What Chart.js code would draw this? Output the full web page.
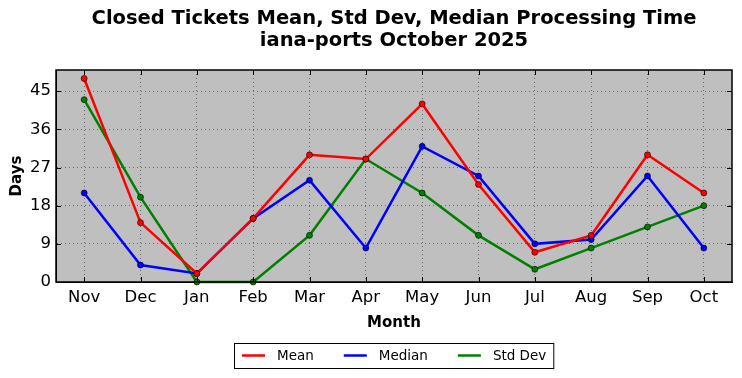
<!DOCTYPE html>
<html>
<head>
<meta charset="utf-8">
<script src="https://cdn.jsdelivr.net/npm/chart.js@4.4.1/dist/chart.umd.min.js"></script>
<style>
    html, body { margin: 0; padding: 0; background: #fff; }
    #wrap { width: 742px; height: 378px; }
</style>
</head>
<body>
<div id="wrap"><canvas id="ticketsChart" width="742" height="378"></canvas></div>
<script>
// data
const months = ['Nov', 'Dec', 'Jan', 'Feb', 'Mar', 'Apr', 'May', 'Jun', 'Jul', 'Aug', 'Sep', 'Oct'];
const meanDays = [48, 14, 2, 15, 30, 29, 42, 23, 7, 11, 30, 21];
const medianDays = [21, 4, 2, 15, 24, 8, 32, 25, 9, 10, 25, 8];
const stdDevDays = [43, 20, 0, 0, 11, 29, 21, 11, 3, 8, 13, 18];
const yTicks = [0, 9, 18, 27, 36, 45];
const titleLines = ['Closed Tickets Mean, Std Dev, Median Processing Time', 'iana-ports October 2025'];

const FONT = '"DejaVu Sans", sans-serif';

// title centred over the axes, like matplotlib does
const axesTitle = {
    id: 'axesTitle',
    afterDraw(chart) {
        const { ctx, chartArea: a } = chart;
        ctx.save();
        ctx.font = 'bold 19.5px ' + FONT;
        ctx.fillStyle = '#000';
        ctx.textAlign = 'center';
        ctx.textBaseline = 'middle';
        const cx = (a.left + a.right) / 2;
        titleLines.forEach((line, i) => ctx.fillText(line, cx, 19 + i * 22));
        ctx.restore();
    }
};

// grey plot background + frame + inward tick marks (matplotlib classic look)
const plotFrame = {
    id: 'plotFrame',
    beforeDatasetsDraw(chart) {
        const { ctx, chartArea: a } = chart;
        ctx.save();
        ctx.globalCompositeOperation = 'destination-over';
        ctx.fillStyle = '#bfbfbf';
        ctx.fillRect(a.left, a.top, a.right - a.left, a.bottom - a.top);
        ctx.restore();
    },
    afterDatasetsDraw(chart) {
        const { ctx, chartArea: a, scales } = chart;
        ctx.save();
        ctx.strokeStyle = '#000';
        ctx.lineWidth = 1;
        ctx.beginPath();
        scales.y.ticks.forEach(t => {
            const y = Math.round(scales.y.getPixelForValue(t.value)) + 0.5;
            ctx.moveTo(a.left, y); ctx.lineTo(a.left + 5, y);
            ctx.moveTo(a.right, y); ctx.lineTo(a.right - 5, y);
        });
        months.forEach((m, i) => {
            const x = Math.round(scales.x.getPixelForValue(i)) + 0.5;
            ctx.moveTo(x, a.bottom); ctx.lineTo(x, a.bottom - 5);
            ctx.moveTo(x, a.top); ctx.lineTo(x, a.top + 5);
        });
        ctx.stroke();
        ctx.lineWidth = 1.5;
        ctx.strokeRect(a.left, a.top, a.right - a.left, a.bottom - a.top);
        ctx.restore();
    }
};

// boxed legend below the axes
const legendBox = {
    id: 'legendBox',
    afterDraw(chart) {
        const { ctx, chartArea: a } = chart;
        const sets = chart.data.datasets;
        ctx.save();
        ctx.font = '13.5px ' + FONT;
        const sample = 23, textGap = 12, itemGap = 30;
        const widths = sets.map(d => sample + textGap + ctx.measureText(d.label).width);
        const total = widths.reduce((s, w) => s + w, 0) + itemGap * (sets.length - 1);
        let x = Math.round((a.left + a.right) / 2 - total / 2);
        const top = chart.height - 35, h = 25, mid = top + h / 2;
        ctx.fillStyle = '#fff';
        ctx.fillRect(x - 8, top, total + 15, h);
        ctx.strokeStyle = '#000';
        ctx.lineWidth = 1;
        ctx.strokeRect(x - 8 + 0.5, top + 0.5, total + 15, h);
        ctx.textBaseline = 'middle';
        ctx.textAlign = 'left';
        sets.forEach((d, i) => {
            ctx.strokeStyle = d.borderColor;
            ctx.lineWidth = 2.5;
            ctx.beginPath();
            ctx.moveTo(x, mid); ctx.lineTo(x + sample, mid);
            ctx.stroke();
            ctx.fillStyle = '#000';
            ctx.fillText(d.label, x + sample + textGap, mid + 1);
            x += widths[i] + itemGap;
        });
        ctx.restore();
    }
};

function series(label, data, color) {
    return {
        label: label,
        data: data,
        borderColor: color,
        backgroundColor: color,
        borderWidth: 2.5,
        pointRadius: 3,
        pointBackgroundColor: color,
        pointBorderColor: '#000',
        pointBorderWidth: 0.6,
        tension: 0,
        clip: false
    };
}

const ctx = document.getElementById('ticketsChart');
new Chart(ctx, {
    type: 'line',
    data: {
        labels: months,
        datasets: [
            series('Mean', meanDays, '#ff0000'),
            series('Median', medianDays, '#0000ff'),
            series('Std Dev', stdDevDays, '#008000')
        ]
    },
    options: {
        responsive: false,
        animation: false,
        devicePixelRatio: 1,
        layout: { padding: { left: 0, right: 10, top: 70, bottom: 46 } },
        plugins: {
            legend: { display: false },
            tooltip: { enabled: false },
            title: { display: false }
        },
        scales: {
            x: {
                offset: true,
                grid: {
                    offset: false,
                    drawTicks: false,
                    color: 'rgba(0,0,0,0.45)',
                    lineWidth: 1
                },
                border: { display: true, color: '#000', width: 1, dash: [1, 3] },
                ticks: { color: '#000', font: { family: FONT, size: 16.5 }, padding: 6, maxRotation: 0 },
                title: {
                    display: true,
                    text: 'Month',
                    color: '#000',
                    font: { family: FONT, size: 15, weight: 'bold' },
                    padding: { top: 4, bottom: 0 }
                },
                afterFit(scale) { scale.height = 50; }
            },
            y: {
                min: 0,
                max: 50,
                afterBuildTicks(scale) { scale.ticks = yTicks.map(v => ({ value: v })); },
                grid: {
                    drawTicks: false,
                    color: 'rgba(0,0,0,0.45)',
                    lineWidth: 1
                },
                border: { display: true, color: '#000', width: 1, dash: [1, 3] },
                ticks: { color: '#000', font: { family: FONT, size: 16.5 }, padding: 5 },
                title: {
                    display: true,
                    text: 'Days',
                    color: '#000',
                    font: { family: FONT, size: 15, weight: 'bold' },
                    padding: { top: 8, bottom: 0 }
                },
                afterFit(scale) { scale.width = 56; }
            }
        }
    },
    plugins: [plotFrame, axesTitle, legendBox]
});
</script>
</body>
</html>
